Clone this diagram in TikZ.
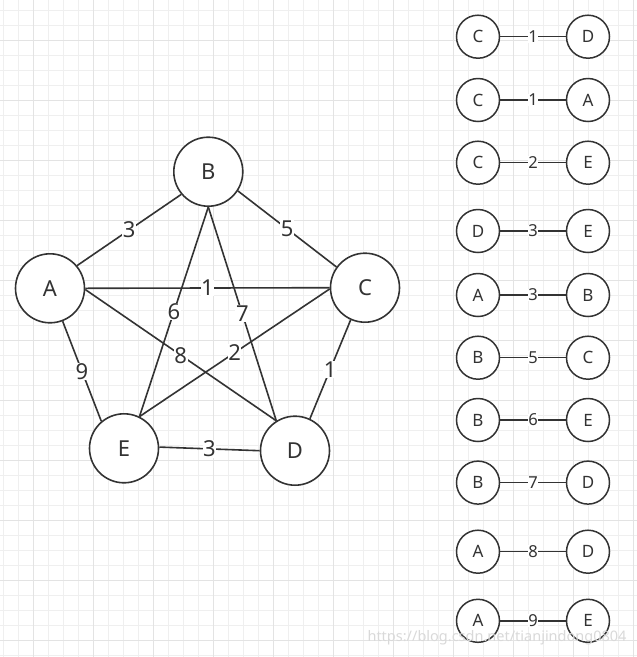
\documentclass[tikz,border=0pt]{standalone}
\usepackage{fontspec}
\setmainfont{Noto Sans}
\definecolor{ink}{HTML}{333333}
\definecolor{gminor}{HTML}{EFEFEF}
\definecolor{gmajor}{HTML}{E3E3E3}
\definecolor{wm}{HTML}{D9D9D9}
\begin{document}
\begin{tikzpicture}[x=1pt,y=-1pt,
  gmin/.style={gminor,line width=1pt},
  gmaj/.style={gmajor,line width=1pt},
  big/.style={circle,draw=ink,line width=1.6pt,fill=white,minimum size=69pt,inner sep=0pt,text=ink,font=\fontsize{22}{24}\selectfont},
  small/.style={circle,draw=ink,line width=1.5pt,fill=white,minimum size=43pt,inner sep=0pt,text=ink,font=\fontsize{17}{19}\selectfont},
  edge/.style={draw=ink,line width=1.6pt},
  sedge/.style={draw=ink,line width=1.5pt},
  lbl/.style={fill=white,inner sep=0.6pt,text=ink,font=\fontsize{22}{24}\selectfont,pos=0.5},
  slbl/.style={fill=white,inner sep=0.4pt,text=ink,font=\fontsize{16.5}{18}\selectfont,pos=0.5}]
\useasboundingbox[fill=white] (0,0) rectangle (637,657);
% grid
\foreach \i in {0,...,42} {\draw[gmin] ({3.33+15*\i},0) -- ({3.33+15*\i},657);}
\foreach \j in {0,...,43} {\draw[gmin] (0,{10+15*\j}) -- (637,{10+15*\j});}
\foreach \i in {0,...,10} {\draw[gmaj] ({33.33+60*\i},0) -- ({33.33+60*\i},657);}
\foreach \j in {0,...,10} {\draw[gmaj] (0,{40+60*\j}) -- (637,{40+60*\j});}
% main graph
\node[big] (A) at (50,288.3) {A};
\node[big] (B) at (208.3,171.7) {B};
\node[big] (C) at (365,287.7) {C};
\node[big] (D) at (295,450.7) {D};
\node[big] (E) at (124,448.3) {E};
\draw[edge] (A.40) -- node[lbl] {3} (B.220);
\draw[edge] (B.-33) -- node[lbl] {5} (C.144);
\draw[edge] (A.east) -- node[lbl] {1} (C.west);
\draw[edge] (B.south) -- node[lbl] {6} (E.64);
\draw[edge] (B.south) -- node[lbl] {7} (D.122);
\draw[edge] (A.-2) -- node[lbl] {8} (D.122);
\draw[edge] (C.182) -- node[lbl] {2} (E.64);
\draw[edge] (A.-69) -- node[lbl] {9} (E.130);
\draw[edge] (C.-114) -- node[lbl] {1} (D.65);
\draw[edge] (E.2) -- node[lbl] {3} (D.west);
% sorted edge list
\foreach \n/\l/\w/\r/\y in {1/C/1/D/36.7, 2/C/1/A/100, 3/C/2/E/162.7, 4/D/3/E/231, 5/A/3/B/295, 6/B/5/C/357.7, 7/B/6/E/420, 8/B/7/D/482.6, 9/A/8/D/551.7, 10/A/9/E/620.8} {
  \node[small] (l\n) at (478,\y) {\l};
  \node[small] (r\n) at (588,\y) {\r};
  \draw[sedge] (l\n) -- node[slbl] {\w} (r\n);
}
% watermark
\node[text=wm,font=\fontsize{14.5}{16}\selectfont,inner sep=0pt] (wmark) at (497,638) {https://blog.csdn.net/tianjindong0804};
\end{tikzpicture}
\end{document}
